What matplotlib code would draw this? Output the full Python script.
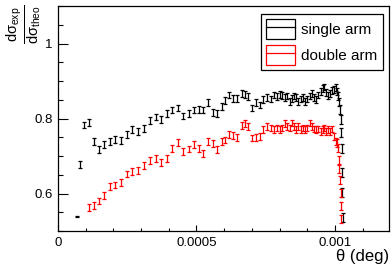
import matplotlib
matplotlib.use("Agg")
import matplotlib.pyplot as plt
import numpy as np
from matplotlib.lines import Line2D
from matplotlib.patches import Rectangle
from matplotlib.legend_handler import HandlerTuple
from matplotlib.ticker import MultipleLocator

plt.rcParams["font.family"] = ["Liberation Sans", "DejaVu Sans"]
plt.rcParams["mathtext.fontset"] = "custom"
plt.rcParams["mathtext.rm"] = "Liberation Sans"
plt.rcParams["mathtext.it"] = "Liberation Sans"

# theta in units of 1e-6 deg
theta_single = [69, 79, 95, 112, 129, 147, 167, 187, 207, 226, 248, 267, 289, 311, 332, 353,
                373, 394, 413, 432, 452, 472, 491, 509, 525, 543, 558, 575, 591, 603, 618, 633,
                647, 663, 675, 687, 701, 715, 729, 741, 755, 768, 780, 790, 800, 810, 819, 828,
                836, 844, 852, 860, 868, 876, 884, 892, 900, 908, 916, 924, 932, 940, 948, 955,
                962, 969, 976, 983, 990, 996, 1002, 1007, 1011, 1014, 1017, 1020, 1022, 1024,
                1026, 1027, 1030]
single_arm = [0.539, 0.677, 0.783, 0.790, 0.739, 0.717, 0.730, 0.739, 0.745, 0.741, 0.757, 0.770,
              0.765, 0.774, 0.794, 0.804, 0.798, 0.814, 0.823, 0.828, 0.807, 0.814, 0.823, 0.825,
              0.823, 0.842, 0.816, 0.814, 0.832, 0.848, 0.863, 0.854, 0.854, 0.866, 0.865, 0.858,
              0.828, 0.842, 0.836, 0.850, 0.857, 0.852, 0.863, 0.858, 0.864, 0.861, 0.856, 0.860,
              0.845, 0.854, 0.860, 0.856, 0.845, 0.852, 0.857, 0.845, 0.852, 0.860, 0.867, 0.856,
              0.851, 0.863, 0.872, 0.880, 0.884, 0.870, 0.862, 0.866, 0.874, 0.878, 0.882, 0.872,
              0.860, 0.845, 0.824, 0.797, 0.763, 0.721, 0.657, 0.602, 0.535]
single_err = [0.002] + [0.009] * 71 + [0.010, 0.011, 0.012, 0.012, 0.012, 0.012, 0.012, 0.012, 0.012]

theta_double = [112, 129, 147, 167, 187, 207, 226, 248, 267, 289, 311, 332, 353, 373, 394, 413,
                432, 452, 472, 491, 509, 525, 543, 558, 575, 591, 603, 618, 633, 647, 663, 675,
                687, 701, 715, 729, 741, 755, 768, 780, 790, 800, 810, 819, 828, 836, 844, 852,
                860, 868, 876, 884, 892, 900, 908, 916, 924, 932, 940, 948, 955, 962, 969, 976,
                983, 990, 996, 1002, 1006, 1010, 1013, 1016, 1018, 1020, 1021, 1022]
double_arm = [0.562, 0.568, 0.580, 0.595, 0.618, 0.623, 0.630, 0.652, 0.659, 0.662, 0.674, 0.688,
              0.693, 0.682, 0.694, 0.720, 0.737, 0.712, 0.719, 0.730, 0.721, 0.706, 0.739, 0.733,
              0.717, 0.739, 0.743, 0.757, 0.754, 0.750, 0.781, 0.786, 0.779, 0.748, 0.750, 0.752,
              0.770, 0.779, 0.775, 0.770, 0.775, 0.770, 0.775, 0.786, 0.779, 0.775, 0.788, 0.779,
              0.770, 0.779, 0.770, 0.775, 0.770, 0.775, 0.788, 0.779, 0.772, 0.770, 0.772, 0.766,
              0.770, 0.775, 0.766, 0.770, 0.765, 0.772, 0.752, 0.739, 0.735, 0.722, 0.690, 0.665,
              0.637, 0.602, 0.566, 0.533]
double_err = [0.009] * 68 + [0.010, 0.010, 0.011, 0.011, 0.011, 0.011, 0.011, 0.011]

x_ticks = [0, 0.0005, 0.001]
x_tick_labels = ["0", "0.0005", "0.001"]
y_ticks = [0.6, 0.8, 1.0]
y_tick_labels = ["0.6", "0.8", "1"]

fig = plt.figure(figsize=(3.91, 2.66), dpi=100)
ax = fig.add_axes([58 / 391, 35 / 266, 331 / 391, 225 / 266])

ax.errorbar(np.array(theta_single) * 1e-6, single_arm, yerr=single_err, fmt="none",
            ecolor="black", elinewidth=0.9, capsize=1.4, capthick=0.9)
ax.errorbar(np.array(theta_double) * 1e-6, double_arm, yerr=double_err, fmt="none",
            ecolor="red", elinewidth=0.9, capsize=1.4, capthick=0.9)

ax.set_xlim(0, 0.001195)
ax.set_ylim(0.5, 1.1)
ax.set_xticks(x_ticks, labels=x_tick_labels)
ax.set_yticks(y_ticks, labels=y_tick_labels)
ax.xaxis.set_minor_locator(MultipleLocator(0.0001))
ax.yaxis.set_minor_locator(MultipleLocator(0.05))
ax.tick_params(axis="both", which="both", direction="in", labelsize=9.5, width=0.8)
ax.tick_params(axis="x", which="major", length=4.3, pad=4)
ax.tick_params(axis="x", which="minor", length=2.2)
ax.tick_params(axis="y", which="major", length=7.2, pad=4)
ax.tick_params(axis="y", which="minor", length=3.6)
for s in ax.spines.values():
    s.set_linewidth(0.9)

fig.text(389 / 391, 10 / 266, "θ (deg)", ha="right", va="center", fontsize=12)
fig.text(24 / 391, 242 / 266, r"$\mathrm{\frac{d\sigma_{exp}}{d\sigma_{theo}}}$",
         rotation=90, ha="center", va="center", fontsize=15)

handles = [
    (Rectangle((0, 0), 1, 1, fill=False, edgecolor="black", linewidth=0.9),
     Line2D([], [], color="black", linewidth=0.9)),
    (Rectangle((0, 0), 1, 1, fill=False, edgecolor="red", linewidth=0.9),
     Line2D([], [], color="red", linewidth=0.9)),
]
leg = ax.legend(handles, ["single arm", "double arm"], loc="upper right",
                bbox_to_anchor=(0.982, 0.964), borderaxespad=0, fontsize=11,
                fancybox=False, framealpha=1, edgecolor="black",
                handler_map={tuple: HandlerTuple(ndivide=1, pad=0)},
                handlelength=1.9, handleheight=1.6, handletextpad=0.4,
                borderpad=0.35, labelspacing=0.4)
leg.get_frame().set_linewidth(0.9)

fig.savefig("out.png", dpi=100)
